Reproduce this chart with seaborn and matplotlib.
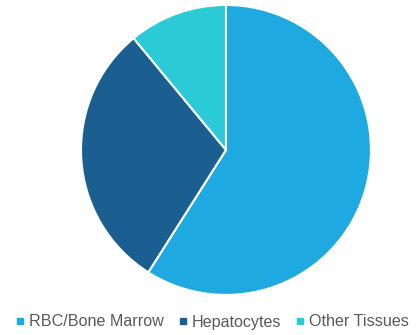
import matplotlib
matplotlib.use("Agg")
import matplotlib.pyplot as plt
from matplotlib.lines import Line2D
import seaborn as sns

# data
labels = ["RBC/Bone Marrow", "Hepatocytes", "Other Tissues"]
shares = [59, 30, 11]
colors = ["#1fa9e1", "#1b5f91", "#2acbd6"]

sns.set_style("white")
plt.rcParams["font.family"] = ["Liberation Sans", "DejaVu Sans"]

fig = plt.figure(figsize=(4.19, 3.35), dpi=100)
ax = fig.add_axes([0.1933, 0.1194, 0.692, 0.866])

palette = sns.color_palette(colors)
ax.pie(
    shares,
    colors=palette,
    startangle=90,
    counterclock=False,
    radius=1.0,
    wedgeprops=dict(edgecolor="white", linewidth=1.5),
)
ax.set_xlim(-1, 1)
ax.set_ylim(-1, 1)
ax.set_aspect("equal")
ax.axis("off")

# legend
handles = [
    Line2D([], [], marker="s", linestyle="none", markersize=4.5,
           markerfacecolor=c, markeredgecolor=c, label=l)
    for c, l in zip(palette, labels)
]
fig.legend(
    handles=handles,
    loc="center",
    bbox_to_anchor=(0.508, 1 - 322 / 335),
    ncol=3,
    frameon=False,
    fontsize=11.6,
    labelcolor="#595959",
    handlelength=0.4,
    handletextpad=0.35,
    columnspacing=1.0,
    borderaxespad=0,
)

fig.savefig("out.png", dpi=100)
